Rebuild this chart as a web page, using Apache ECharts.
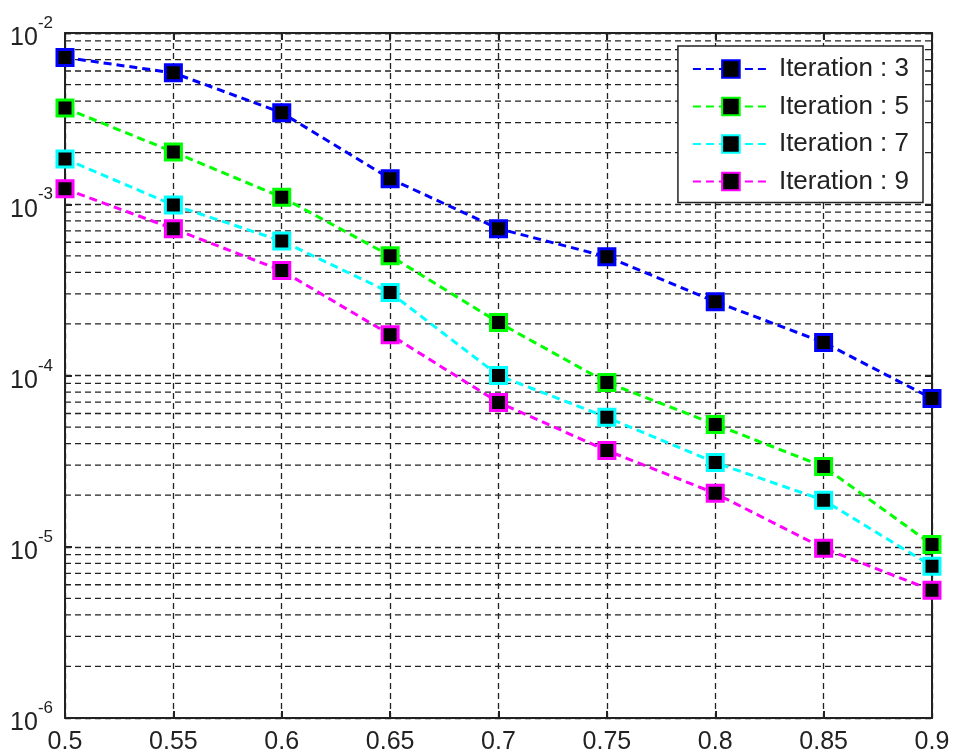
<!DOCTYPE html>
<html>
<head>
<meta charset="utf-8">
<script src="https://cdn.jsdelivr.net/npm/echarts@6/dist/echarts.min.js"></script>
<style>html,body{margin:0;padding:0;background:#fff}#c{width:953px;height:756px}</style>
</head>
<body>
<div id="c"></div>
<script>
var xValues = [0.5, 0.55, 0.6, 0.65, 0.7, 0.75, 0.8, 0.85, 0.9];
var xTickLabels = ['0.5', '0.55', '0.6', '0.65', '0.7', '0.75', '0.8', '0.85', '0.9'];
var yTickExponents = ['-6', '-5', '-4', '-3', '-2'];
var seriesNames = ['Iteration : 3', 'Iteration : 5', 'Iteration : 7', 'Iteration : 9'];
var iter3 = [7.2e-3, 5.85e-3, 3.42e-3, 1.41e-3, 7.2e-4, 4.94e-4, 2.7e-4, 1.56e-4, 7.34e-5];
var iter5 = [3.65e-3, 2.02e-3, 1.1e-3, 5.0e-4, 2.04e-4, 9.1e-5, 5.18e-5, 2.94e-5, 1.03e-5];
var iter7 = [1.84e-3, 9.9e-4, 6.1e-4, 3.05e-4, 1.0e-4, 5.7e-5, 3.1e-5, 1.87e-5, 7.7e-6];
var iter9 = [1.23e-3, 7.2e-4, 4.1e-4, 1.73e-4, 6.96e-5, 3.65e-5, 2.05e-5, 9.8e-6, 5.57e-6];
var minorMultipliers = [2, 3, 4, 5, 6, 7, 8, 9];

var colors = ['#0000ff', '#00ff00', '#00ffff', '#ff00ff'];
var allData = [iter3, iter5, iter7, iter9];
var FONT = 'Liberation Sans, Arial, sans-serif';
var TXT = '#222';
var xMin = xValues[0], xMax = xValues[xValues.length - 1];

var minorValues = [];
yTickExponents.slice(0, -1).forEach(function (e) {
  var base = Math.pow(10, Number(e));
  minorMultipliers.forEach(function (m) { minorValues.push(m * base); });
});

var gridDash = { color: '#222', width: 1.3, type: [6, 4] };

var series = [{
  name: 'minorGrid',
  type: 'custom',
  silent: true,
  z: 1,
  data: minorValues.map(function (v) { return [xMin, v]; }),
  encode: { x: 0, y: 1 },
  clip: false,
  renderItem: function (params, api) {
    var v = api.value(1);
    var p1 = api.coord([xMin, v]);
    var p2 = api.coord([xMax, v]);
    return {
      type: 'line',
      shape: { x1: p1[0], y1: p1[1], x2: p2[0], y2: p2[1] },
      style: { stroke: '#222', lineWidth: 1.3, lineDash: [6, 4] }
    };
  }
}];

allData.forEach(function (arr, i) {
  series.push({
    name: seriesNames[i],
    type: 'line',
    data: arr.map(function (v, j) { return [xValues[j], v]; }),
    symbol: 'rect',
    symbolSize: 16,
    showAllSymbol: true,
    lineStyle: { color: colors[i], width: 3, type: [8, 5] },
    itemStyle: { color: '#000', borderColor: colors[i], borderWidth: 3 },
    z: 5
  });
});

var chart = echarts.init(document.getElementById('c'), null, { renderer: 'canvas' });
chart.setOption({
  animation: false,
  backgroundColor: '#fff',
  grid: { left: 65, right: 21, top: 33, bottom: 38 },
  legend: {
    orient: 'vertical',
    right: 30,
    top: 46,
    data: seriesNames,
    itemWidth: 76,
    itemHeight: 22,
    itemGap: 11.5,
    padding: [10, 14, 8, 14],
    backgroundColor: '#fff',
    borderColor: '#222',
    borderWidth: 1.5,
    textStyle: { fontFamily: FONT, fontSize: 26, color: TXT, padding: [0, 0, 0, 5] }
  },
  xAxis: [{
    type: 'value',
    min: 0.5, max: 0.9, interval: 0.05,
    axisLine: { lineStyle: { color: '#222', width: 2 } },
    axisTick: { inside: true, length: 7, lineStyle: { color: '#222', width: 2 } },
    axisLabel: {
      margin: 12, fontFamily: FONT, fontSize: 25, color: TXT,
      formatter: function (v) { var i = Math.round((v - 0.5) / 0.05); return xTickLabels[i]; }
    },
    splitLine: { show: true, lineStyle: gridDash }
  }, {
    type: 'value', position: 'top',
    min: 0.5, max: 0.9, interval: 0.05,
    axisLine: { show: true, lineStyle: { color: '#222', width: 2 } },
    axisTick: { show: true, inside: true, length: 7, lineStyle: { color: '#222', width: 2 } },
    axisLabel: { show: false },
    splitLine: { show: false }
  }],
  yAxis: [{
    type: 'log', logBase: 10,
    min: 1e-6, max: 1e-2,
    axisLine: { show: true, lineStyle: { color: '#222', width: 2 } },
    axisTick: { show: true, inside: true, length: 7, lineStyle: { color: '#222', width: 2 } },
    axisLabel: {
      margin: 12,
      formatter: function (v) {
        var e = Math.round(Math.log(v) / Math.LN10);
        var idx = yTickExponents.indexOf(String(e));
        return '{b|10}{s|' + yTickExponents[idx] + '}';
      },
      rich: {
        b: { fontFamily: FONT, fontSize: 25, color: TXT, lineHeight: 26, verticalAlign: 'bottom' },
        s: { fontFamily: FONT, fontSize: 17, color: TXT, lineHeight: 36, verticalAlign: 'top' }
      }
    },
    splitLine: { show: true, lineStyle: gridDash }
  }, {
    type: 'log', logBase: 10, position: 'right',
    min: 1e-6, max: 1e-2,
    axisLine: { show: true, lineStyle: { color: '#222', width: 2 } },
    axisTick: { show: true, inside: true, length: 7, lineStyle: { color: '#222', width: 2 } },
    axisLabel: { show: false },
    splitLine: { show: false }
  }],
  series: series
});
</script>
</body>
</html>
